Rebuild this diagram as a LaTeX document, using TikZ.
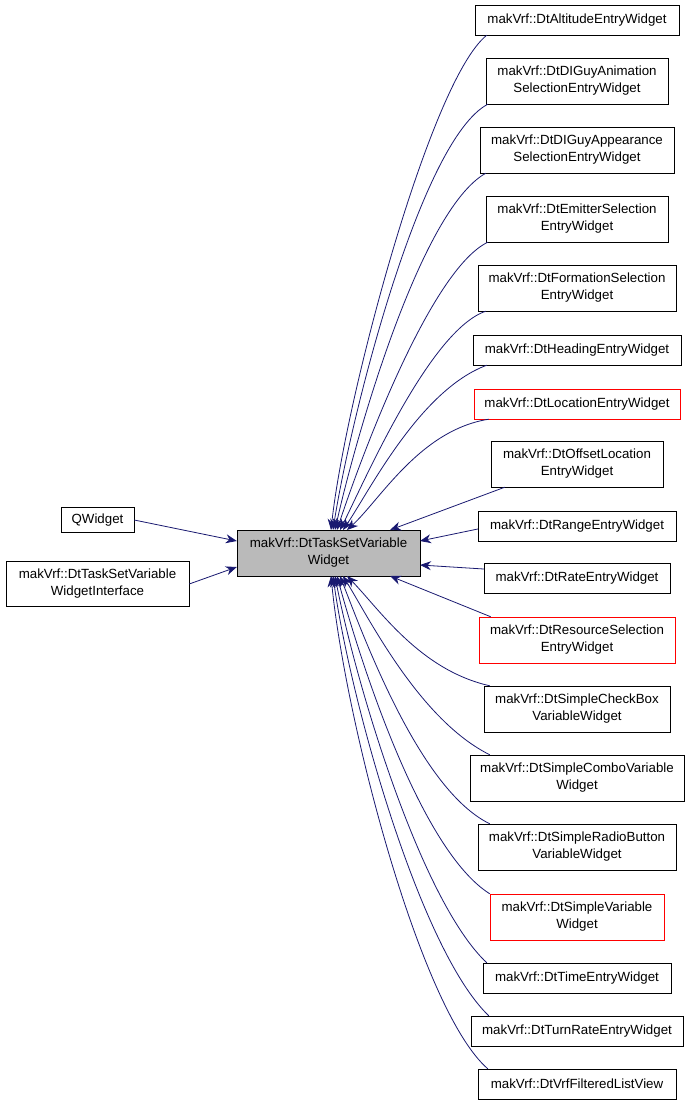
\documentclass[tikz,border=0pt]{standalone}
\usepackage{fontspec}
\setmainfont{Liberation Sans}
\usetikzlibrary{arrows.meta}
\definecolor{navy}{RGB}{25,25,112}
\begin{document}
\begin{tikzpicture}[x=1pt,y=-1pt,
 box/.style={draw,rectangle,inner sep=0pt,font=\fontsize{13.3}{17}\selectfont,align=center},
 red/.style={draw=red},
 edge/.style={draw=navy,-{Stealth[length=11pt,width=9pt]},line width=0.8pt}]
\useasboundingbox (0,0) rectangle (691,1107);
\node[box,fill=black!27,minimum width=183,minimum height=46] (c) at (328.5,553) {makVrf::DtTaskSetVariable\\Widget};
\node[box,minimum width=73,minimum height=25] (q) at (97.5,520) {QWidget};
\node[box,minimum width=183,minimum height=45] (wi) at (97.5,584) {makVrf::DtTaskSetVariable\\WidgetInterface};
\foreach \n/\y/\w/\h/\t/\s in {
 a/20/204/30/{makVrf::DtAltitudeEntryWidget}/,
 b/81/182/46/{makVrf::DtDIGuyAnimation\\SelectionEntryWidget}/,
 d/150/194/46/{makVrf::DtDIGuyAppearance\\SelectionEntryWidget}/,
 e/219/182/46/{makVrf::DtEmitterSelection\\EntryWidget}/,
 f/288/198/46/{makVrf::DtFormationSelection\\EntryWidget}/,
 g/350/208/30/{makVrf::DtHeadingEntryWidget}/,
 h/404/206/30/{makVrf::DtLocationEntryWidget}/red,
 i/464/172/46/{makVrf::DtOffsetLocation\\EntryWidget}/,
 j/526/198/30/{makVrf::DtRangeEntryWidget}/,
 k/578/186/30/{makVrf::DtRateEntryWidget}/,
 l/640/196/46/{makVrf::DtResourceSelection\\EntryWidget}/red,
 m/709/186/46/{makVrf::DtSimpleCheckBox\\VariableWidget}/,
 n/778/214/46/{makVrf::DtSimpleComboVariable\\Widget}/,
 o/847/198/46/{makVrf::DtSimpleRadioButton\\VariableWidget}/,
 p/917/174/46/{makVrf::DtSimpleVariable\\Widget}/red,
 r/978/188/30/{makVrf::DtTimeEntryWidget}/,
 s/1031/212/30/{makVrf::DtTurnRateEntryWidget}/,
 t/1084/198/30/{makVrf::DtVrfFilteredListView}/}
 \node[box,minimum width=\w,minimum height=\h,\s] (\n) at (577,\y) {\t};
\draw[edge] (q.east) -- (c.west |- 0,541);
\draw[edge] (wi.east) -- (c.west |- 0,567);
% upper
\draw[edge] (a.south west) ++(12,0) .. controls (430,80) and (345,400) .. (331,530);
\draw[edge] (b.south west) ++(2,0) .. controls (420,140) and (350,420) .. (333,530);
\draw[edge] (d.south west) ++(6,0) .. controls (420,210) and (355,440) .. (335,530);
\draw[edge] (e.south west) ++(2,0) .. controls (430,270) and (360,460) .. (337,530);
\draw[edge] (f.south west) ++(8,0) .. controls (430,330) and (365,480) .. (340,530);
\draw[edge] (g.south west) ++(14,0) .. controls (420,390) and (370,490) .. (343,530);
\draw[edge] (h.south west) ++(15,0) .. controls (420,430) and (380,500) .. (347,530);
\draw[edge] (i.south west) ++(14,0) -- (390,530);
\draw[edge] (j.west) ++(0,3) -- (420,541);
\draw[edge] (k.west) ++(0,-9) -- (420,565);
\draw[edge] (l.north west) ++(12,0) -- (390,576);
% lower
\draw[edge] (m.north west) ++(6,0) .. controls (420,670) and (380,610) .. (347,576);
\draw[edge] (n.north west) ++(20,0) .. controls (420,720) and (370,620) .. (343,576);
\draw[edge] (o.north west) ++(12,0) .. controls (420,790) and (365,640) .. (340,576);
\draw[edge] (p.north west) ++(0,0) .. controls (420,850) and (360,660) .. (337,576);
\draw[edge] (r.north west) ++(4,0) .. controls (420,900) and (355,680) .. (335,576);
\draw[edge] (s.north west) ++(18,0) .. controls (420,950) and (350,700) .. (333,576);
\draw[edge] (t.north west) ++(10,0) .. controls (420,1010) and (345,720) .. (331,576);
\end{tikzpicture}
\end{document}
